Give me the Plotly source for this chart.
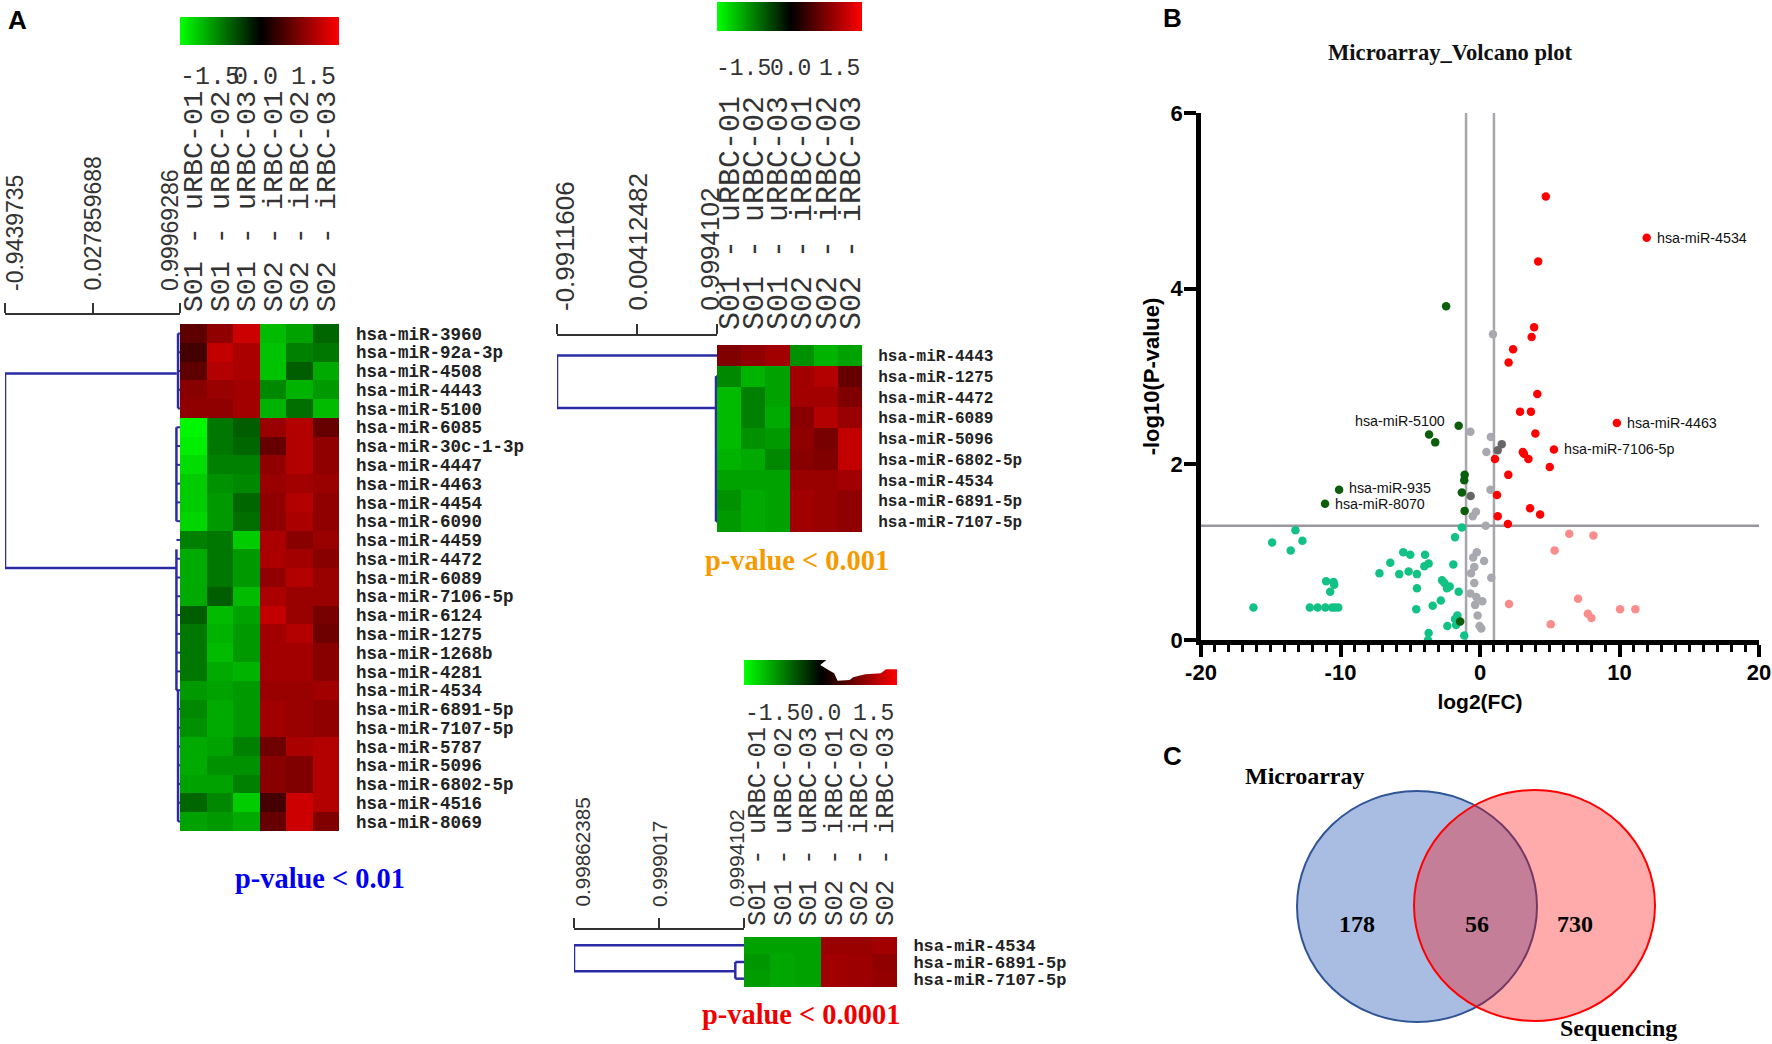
import plotly.graph_objects as go

W, H = 1772, 1044

# ---------- data: panel A ----------
columns = ["S01 - uRBC-01", "S01 - uRBC-02", "S01 - uRBC-03", "S02 - iRBC-01", "S02 - iRBC-02", "S02 - iRBC-03"]
scale_ticks = [-1.5, 0.0, 1.5]
rows_a = ["hsa-miR-3960", "hsa-miR-92a-3p", "hsa-miR-4508", "hsa-miR-4443", "hsa-miR-5100", "hsa-miR-6085",
          "hsa-miR-30c-1-3p", "hsa-miR-4447", "hsa-miR-4463", "hsa-miR-4454", "hsa-miR-6090", "hsa-miR-4459",
          "hsa-miR-4472", "hsa-miR-6089", "hsa-miR-7106-5p", "hsa-miR-6124", "hsa-miR-1275", "hsa-miR-1268b",
          "hsa-miR-4281", "hsa-miR-4534", "hsa-miR-6891-5p", "hsa-miR-7107-5p", "hsa-miR-5787", "hsa-miR-5096",
          "hsa-miR-6802-5p", "hsa-miR-4516", "hsa-miR-8069"]
values_a = [
    [0.55, 0.85, 1.2, -1.1, -0.95, -0.6],
    [0.4, 1.15, 1.0, -1.15, -0.75, -0.7],
    [0.55, 1.05, 1.0, -1.15, -0.55, -1.0],
    [0.8, 0.9, 0.95, -0.8, -1.05, -0.9],
    [0.85, 0.85, 0.95, -1.05, -0.65, -1.1],
    [-1.45, -0.7, -0.55, 0.9, 1.05, 0.6],
    [-1.4, -0.7, -0.6, 0.6, 1.05, 0.85],
    [-1.3, -0.75, -0.75, 0.85, 1.05, 0.85],
    [-1.2, -0.85, -0.8, 0.9, 0.95, 0.9],
    [-1.2, -0.9, -0.6, 0.85, 1.05, 0.85],
    [-1.25, -0.9, -0.65, 0.85, 1.0, 0.85],
    [-0.75, -0.7, -1.2, 1.0, 0.8, 0.9],
    [-1.0, -0.7, -0.9, 1.0, 0.95, 0.8],
    [-1.0, -0.7, -0.9, 0.85, 1.05, 0.9],
    [-1.0, -0.55, -1.1, 1.0, 0.9, 0.9],
    [-0.55, -1.1, -0.95, 1.15, 0.9, 0.7],
    [-0.7, -1.05, -0.9, 0.95, 1.05, 0.65],
    [-0.7, -1.1, -0.9, 0.95, 0.95, 0.8],
    [-0.7, -1.0, -1.05, 0.95, 0.95, 0.8],
    [-0.9, -0.95, -0.9, 0.9, 0.9, 0.95],
    [-0.8, -1.0, -0.9, 0.95, 0.9, 0.85],
    [-0.85, -1.0, -0.9, 0.95, 0.9, 0.85],
    [-1.0, -0.95, -0.75, 0.65, 1.0, 1.05],
    [-1.0, -0.85, -0.85, 0.8, 0.75, 1.05],
    [-0.95, -0.95, -0.75, 0.8, 0.75, 1.05],
    [-0.6, -0.8, -1.2, 0.4, 1.2, 1.05],
    [-0.95, -0.9, -1.0, 0.6, 1.2, 0.75],
]
scale_a = [-0.9439735, 0.027859688, 0.99969286]
scale_a_text = ["-0.9439735", "0.027859688", "0.99969286"]
dend_a_x = [0.96, -0.9439735, -0.9439735, 0.96, None,
            0.978, 0.978, None, 0.96, 0.96, None, 0.96, 0.96, None, 0.978, 0.978, None, 0.96, 0.978, None, 0.96, 0.978]
dend_a_y = [2.14, 2.14, 12.5, 12.5, None,
            0, 4, None, 5, 10, None, 11.5, 19, None, 19, 26, None, 2.14, 2.14, None, 19, 19]
stub_a_inner = [0.978] * 5 + [0.96] * 15 + [0.978] * 7
stub_a_outer = 0.99969286

# ---------- data: panel A, second heatmap ----------
rows_b = ["hsa-miR-4443", "hsa-miR-1275", "hsa-miR-4472", "hsa-miR-6089", "hsa-miR-5096", "hsa-miR-6802-5p",
          "hsa-miR-4534", "hsa-miR-6891-5p", "hsa-miR-7107-5p"]
values_b = [
    [0.75, 0.85, 0.95, -0.85, -1.05, -0.95],
    [-0.8, -1.05, -0.95, 0.95, 1.05, 0.6],
    [-1.1, -0.75, -0.95, 0.95, 0.95, 0.75],
    [-1.1, -0.75, -1.0, 0.8, 1.05, 0.9],
    [-1.1, -0.85, -0.9, 0.85, 0.7, 1.15],
    [-1.05, -1.0, -0.8, 0.8, 0.75, 1.15],
    [-0.95, -0.95, -0.95, 0.9, 0.9, 0.95],
    [-0.85, -1.0, -0.95, 0.95, 0.9, 0.85],
    [-0.9, -1.0, -0.95, 0.95, 0.9, 0.85],
]
scale_b = [-0.9911606, 0.00412482, 0.9994102]
scale_b_text = ["-0.9911606", "0.00412482", "0.9994102"]
dend_b_x = [0.9994102, -0.9911606, -0.9911606, 0.987, None, 0.987, 0.987]
dend_b_y = [0, 0, 2.53, 2.53, None, 1, 8]
stub_b_inner = [0.987] * 8
stub_b_rows = [1, 2, 3, 4, 5, 6, 7, 8]

# ---------- data: panel A, third heatmap ----------
rows_c = ["hsa-miR-4534", "hsa-miR-6891-5p", "hsa-miR-7107-5p"]
values_c = [
    [-0.95, -0.95, -0.95, 0.9, 0.9, 0.95],
    [-0.88, -0.98, -0.95, 0.95, 0.92, 0.85],
    [-0.92, -0.98, -0.95, 0.95, 0.92, 0.87],
]
scale_c = [0.99862385, 0.999017, 0.9994102]
scale_c_text = ["0.99862385", "0.999017", "0.9994102"]
dend_c_x = [0.9994102, 0.99862385, 0.99862385, 0.99937, None, 0.99937, 0.99937, None,
            0.99937, 0.9994102, None, 0.99937, 0.9994102]
dend_c_y = [0, 0, 1.56, 1.56, None, 1, 2, None, 1, 1, None, 2, 2]

# ---------- data: panel B ----------
up_x = [4.72, 11.95, 4.17, 3.88, 3.70, 2.37, 2.05, 4.11, 2.87, 3.65, 9.81, 3.97, 5.30, 3.07, 3.15, 3.47, 1.07, 5.0,
        2.03, 1.22, 3.59, 4.31, 1.27, 2.0]
up_y = [5.05, 4.58, 4.31, 3.56, 3.45, 3.31, 3.16, 2.80, 2.60, 2.60, 2.47, 2.35, 2.17, 2.14, 2.12, 2.06, 2.06, 1.97,
        1.88, 1.65, 1.50, 1.43, 1.41, 1.32]
down_x = [-2.43, -1.53, -3.65, -3.21, -1.10, -1.13, -1.30, -1.10, -10.1, -11.11, -1.42]
down_y = [3.80, 2.44, 2.34, 2.25, 1.88, 1.82, 1.68, 1.47, 1.71, 1.55, 0.21]
dark_x = [1.56, 1.27, -0.67]
dark_y = [2.23, 2.16, 1.64]
grey_x = [0.93, -0.69, 0.78, 0.46, 0.75, -0.29, -0.52, 0.41, -0.23, -0.49, 0.29, -0.41, -0.64, 0.81, -0.41, -0.69,
          -0.26, 0.17, -0.35, -0.17, -0.03, 0.09]
grey_y = [3.48, 2.37, 2.31, 2.14, 1.71, 1.46, 1.41, 1.30, 1.00, 0.94, 0.90, 0.83, 0.76, 0.71, 0.65, 0.53,
          0.49, 0.44, 0.40, 0.28, 0.16, 0.13]
ns_down_x = [-13.23, -14.9, -12.73, -13.57, -1.30, -1.79, -5.5, -5.0, -3.94, -6.43, -3.68, -3.99, -1.91, -5.12, -7.21,
             -5.79, -4.52, -2.72, -2.55, -11.03, -10.5, -10.45, -2.17, -2.37, -4.52, -10.74, -1.53, -2.81, -16.24,
             -12.2, -11.64, -11.09, -10.6, -10.4, -10.16, -3.39, -4.57, -1.62, -1.79, -1.71, -2.34, -3.68, -1.13, -3.73]
ns_down_y = [1.25, 1.11, 1.13, 1.02, 1.28, 1.17, 1.00, 0.97, 0.97, 0.88, 0.87, 0.84, 0.86, 0.78, 0.76,
             0.75, 0.75, 0.68, 0.65, 0.67, 0.66, 0.63, 0.61, 0.59, 0.59, 0.55, 0.55, 0.45, 0.37,
             0.37, 0.37, 0.37, 0.37, 0.37, 0.37, 0.39, 0.35, 0.28, 0.24, 0.17, 0.16, 0.08, 0.05, 0.0]
ns_up_x = [6.4, 8.13, 5.35, 2.08, 7.03, 10.04, 11.14, 7.73, 7.99, 5.07]
ns_up_y = [1.21, 1.19, 1.02, 0.41, 0.47, 0.35, 0.35, 0.30, 0.25, 0.18]
fc_cut = [-1, 1]
p_cut = 1.3
fc_ticks = [-20, -10, 0, 10, 20]
fc_tick_text = ["-20", "-10", "0", "10", "20"]
p_ticks = [0, 2, 4, 6]
named = ["hsa-miR-4534", "hsa-miR-4463", "hsa-miR-7106-5p", "hsa-miR-5100", "hsa-miR-935", "hsa-miR-8070"]
named_x = [11.95, 9.81, 5.30, -1.53, -10.1, -11.11]
named_y = [4.58, 2.47, 2.17, 2.49, 1.73, 1.55]

# ---------- data: panel C ----------
venn_counts = ["178", "56", "730"]
venn_names = ["Microarray", "Sequencing"]

# ---------- layout helpers ----------
BLUE_LINE = "#2b2ba6"
GREY = "#a6a6ac"
MONO = "Liberation Mono"
SANS = "Liberation Sans"
SERIF = "Liberation Serif"
COLORS = [[0, "#00ff00"], [0.5, "#000000"], [1, "#ff0000"]]


def dx(a, b):
    return [a / W, b / W]


def dy(top, bottom):
    return [1 - bottom / H, 1 - top / H]


fig = go.Figure()
layout = {}
annotations = []
shapes = []


def note(text, x, y, size, color="#000000", family=SANS, bold=False, angle=0, xanchor="center", yanchor="middle",
         xref="paper", yref="paper", xshift=0, yshift=0):
    annotations.append(dict(
        text=text, x=x if xref != "paper" else x / W, y=y if yref != "paper" else 1 - y / H,
        xref=xref, yref=yref, showarrow=False, textangle=angle, xanchor=xanchor, yanchor=yanchor,
        xshift=xshift, yshift=yshift,
        font=dict(size=size, color=color, family=family, weight="bold" if bold else "normal")))


def heat_panel(n, rows, values, xpx, ypx, col_size, col_gap, row_size, row_gap):
    s = "" if n == 1 else str(n)
    fig.add_trace(go.Heatmap(z=values, x=columns, y=rows, colorscale=COLORS, zmin=-1.5, zmax=1.5, showscale=False,
                             xaxis="x" + s, yaxis="y" + s))
    layout["xaxis" + s] = dict(
        domain=dx(*xpx), anchor="y" + s, side="top", tickmode="array", tickvals=columns, ticktext=columns,
        tickangle=-90, ticks="outside", ticklen=col_gap, tickcolor="rgba(0,0,0,0)", showgrid=False, zeroline=False,
        showline=False, tickfont=dict(family=MONO, size=col_size, color="#333333"))
    layout["yaxis" + s] = dict(
        domain=dy(*ypx), anchor="x" + s, side="right", autorange="reversed", tickmode="array", tickvals=rows,
        ticktext=rows, ticks="outside", ticklen=row_gap, tickcolor="rgba(0,0,0,0)", showgrid=False, zeroline=False,
        showline=False, tickfont=dict(family=MONO, size=row_size, weight="bold", color="#222222"))


def dend_panel(n, ax_id, nrows, tree_x, tree_y, scale, scale_text, xpx, ypx, axis_y, label_bottom, label_size,
               shift=9):
    s = str(ax_id)
    fig.add_trace(go.Scatter(x=tree_x, y=tree_y, mode="lines", line=dict(color=BLUE_LINE, width=2.5),
                             xaxis="x" + s, yaxis="y" + s, showlegend=False, cliponaxis=False, hoverinfo="skip"))
    layout["xaxis" + s] = dict(
        domain=dx(*xpx), range=[scale[0], scale[-1]], anchor="free", position=1 - axis_y / H, overlaying=None,
        side="top", tickmode="array", tickvals=scale, ticks="outside", ticklen=10, tickwidth=2, tickcolor="#333333",
        showticklabels=False, showline=True, linecolor="#333333", linewidth=2, showgrid=False, zeroline=False)
    layout["yaxis" + s] = dict(domain=dy(*ypx), range=[nrows - 0.5, -0.5], anchor="x" + s, visible=False)
    for value, text, sh in zip(scale, scale_text, [shift, 0, -shift]):
        note(text, value, label_bottom, label_size, color="#333333", angle=-90, yanchor="bottom", xref="x" + s,
             xshift=sh)


def bar_panel(ax_id, xpx, ypx):
    s = str(ax_id)
    fig.add_trace(go.Heatmap(z=[scale_ticks], x=scale_ticks, y=["scale"], colorscale=COLORS, zmin=-1.5, zmax=1.5,
                             zsmooth="best", showscale=False, xaxis="x" + s, yaxis="y" + s, hoverinfo="skip"))
    layout["xaxis" + s] = dict(domain=dx(*xpx), range=[-1.5, 1.5], anchor="y" + s, visible=False)
    layout["yaxis" + s] = dict(domain=dy(*ypx), anchor="x" + s, visible=False)


# first heatmap
heat_panel(1, rows_a, values_a, (180, 339), (324, 831), 28.4, 5, 17.5, 12.5)
dend_panel(1, 4, 27, dend_a_x, dend_a_y, scale_a, scale_a_text, (5, 180), (324, 831), 314, 293, 23, shift=10)
for i, inner in enumerate(stub_a_inner):
    fig.add_trace(go.Scatter(x=[inner, stub_a_outer], y=[i, i], mode="lines", line=dict(color=BLUE_LINE, width=2),
                             xaxis="x4", yaxis="y4", showlegend=False, cliponaxis=False, hoverinfo="skip"))
bar_panel(7, (180, 339), (17, 45))

# second heatmap
heat_panel(2, rows_b, values_b, (717, 862), (345, 532), 30, 8, 16, 12)
dend_panel(2, 5, 9, dend_b_x, dend_b_y, scale_b, scale_b_text, (557, 717), (345, 532), 335, 313, 26, shift=8)
for r, inner in zip(stub_b_rows, stub_b_inner):
    fig.add_trace(go.Scatter(x=[inner, scale_b[-1]], y=[r, r], mode="lines", line=dict(color=BLUE_LINE, width=2),
                             xaxis="x5", yaxis="y5", showlegend=False, cliponaxis=False, hoverinfo="skip"))
bar_panel(8, (717, 862), (2, 31))

# third heatmap
heat_panel(3, rows_c, values_c, (744, 897), (937, 987), 25.5, 5, 17, 12)
dend_panel(3, 6, 3, dend_c_x, dend_c_y, scale_c, scale_c_text, (574, 744), (937, 987), 929, 909, 20.7, shift=8)
bar_panel(9, (744, 897), (660, 685))

# white scribble covering the third scale
scribble = [(810, 75), (830, 58), (1035, 58), (1035, 88), (1000, 88), (985, 100), (940, 103), (905, 112), (895, 120),
            (860, 122), (850, 100), (830, 88)]
path = "M " + " L ".join(f"{(540 + a / 2.89) / W:.5f},{1 - (640 + b / 3) / H:.5f}" for a, b in scribble) + " Z"
shapes.append(dict(type="path", path=path, xref="paper", yref="paper", fillcolor="white", line_width=0, layer="above"))

# scale numbers above the columns
for (l, c, r), yy, size in [((178, 255, 338), 78, 25), ((714, 790, 862), 69, 23), ((743, 820, 896), 714, 23)]:
    note("-1.5", l, yy, size, family=MONO, color="#333333", xanchor="left")
    note("0.0", c, yy, size, family=MONO, color="#333333")
    note("1.5", r, yy, size, family=MONO, color="#333333", xanchor="right")

# threshold captions
note("p-value &lt; 0.01", 320, 878, 28.4, color="#0000ee", family=SERIF, bold=True)
note("p-value &lt; 0.001", 797, 560, 28.4, color="#f59a00", family=SERIF, bold=True)
note("p-value &lt; 0.0001", 801, 1014, 28.4, color="#ee0000", family=SERIF, bold=True)

# panel letters
note("A", 17, 20, 26, bold=True)
note("B", 1172, 18, 26, bold=True)
note("C", 1172, 756, 26, bold=True)

# volcano
VX, VY = "x10", "y10"
for xc in fc_cut:
    fig.add_trace(go.Scatter(x=[xc, xc], y=[0, 6], mode="lines", line=dict(color=GREY, width=2.5), xaxis=VX, yaxis=VY,
                             showlegend=False, hoverinfo="skip"))
fig.add_trace(go.Scatter(x=[-20, 20], y=[p_cut, p_cut], mode="lines", line=dict(color="#98989e", width=2.5), xaxis=VX,
                         yaxis=VY, showlegend=False, hoverinfo="skip"))
for xs, ys, col in [(grey_x, grey_y, "#a8a8b0"), (ns_down_x, ns_down_y, "#12c184"), (ns_up_x, ns_up_y, "#fa8c8c"),
                    (dark_x, dark_y, "#666666"), (down_x, down_y, "#0b5e0b"), (up_x, up_y, "#ff0000")]:
    fig.add_trace(go.Scatter(x=xs, y=ys, mode="markers", marker=dict(color=col, size=8.5), xaxis=VX, yaxis=VY,
                             showlegend=False, cliponaxis=False))
layout["xaxis10"] = dict(
    domain=dx(1201, 1759), range=[-20, 20], anchor="y10", tickmode="array", tickvals=fc_ticks, ticktext=fc_tick_text,
    ticks="outside", ticklen=12, tickwidth=3.5, tickcolor="#000000", ticklabelstandoff=-3,
    showline=True, linecolor="#000000", linewidth=4.5, showgrid=False, zeroline=False,
    minor=dict(dtick=1, tick0=0, ticks="outside", ticklen=7, tickwidth=3, tickcolor="#000000", showgrid=False),
    tickfont=dict(family=SANS, size=22, weight="bold", color="#000000"),
    title=dict(text="log2(FC)", standoff=12, font=dict(family=SANS, size=21, weight="bold", color="#000000")))
layout["yaxis10"] = dict(
    domain=dy(113, 640), range=[0, 6], anchor="x10", tickmode="array", tickvals=p_ticks, ticks="outside", ticklen=12,
    tickwidth=3.5, tickcolor="#000000", ticklabelstandoff=-3, showline=True, linecolor="#000000", linewidth=4.5,
    showgrid=False, zeroline=False,
    tickfont=dict(family=SANS, size=22, weight="bold", color="#000000"),
    title=dict(text="-log10(P-value)", standoff=6, font=dict(family=SANS, size=22, weight="bold", color="#000000")))
note("Microarray_Volcano plot", 1450, 53, 22.6, family=SERIF, bold=True, color="#111111")
for name, xv, yv in zip(named, named_x, named_y):
    left = name == "hsa-miR-5100"
    note(name, xv, yv, 14.3, color="#111111", xref=VX, yref=VY, xanchor="right" if left else "left",
         xshift=-12 if left else 8)

# venn
shapes.append(dict(type="circle", xref="paper", yref="paper", x0=1297 / W, x1=1537 / W, y0=1 - 1022 / H,
                   y1=1 - 791 / H, fillcolor="#a9bde3", line=dict(color="#2f5597", width=2), layer="below"))
shapes.append(dict(type="circle", xref="paper", yref="paper", x0=1414 / W, x1=1655 / W, y0=1 - 1021 / H,
                   y1=1 - 790 / H, fillcolor="rgba(255,0,0,0.33)", line=dict(color="#ff0000", width=2), layer="below"))
for text, xc in zip(venn_counts, (1357, 1477, 1575)):
    note(text, xc, 924, 24, family=SERIF, bold=True)
note(venn_names[0], 1305, 776, 24, family=SERIF, bold=True)
note(venn_names[1], 1618, 1028, 24, family=SERIF, bold=True)

fig.update_layout(width=W, height=H, margin=dict(l=0, r=0, t=0, b=0, autoexpand=False), paper_bgcolor="white",
                  plot_bgcolor="rgba(0,0,0,0)", showlegend=False, annotations=annotations, shapes=shapes, **layout)
fig.write_html("out.html", config={"displayModeBar": False},
               post_script="document.body.style.margin='0';document.body.style.overflow='hidden';")
